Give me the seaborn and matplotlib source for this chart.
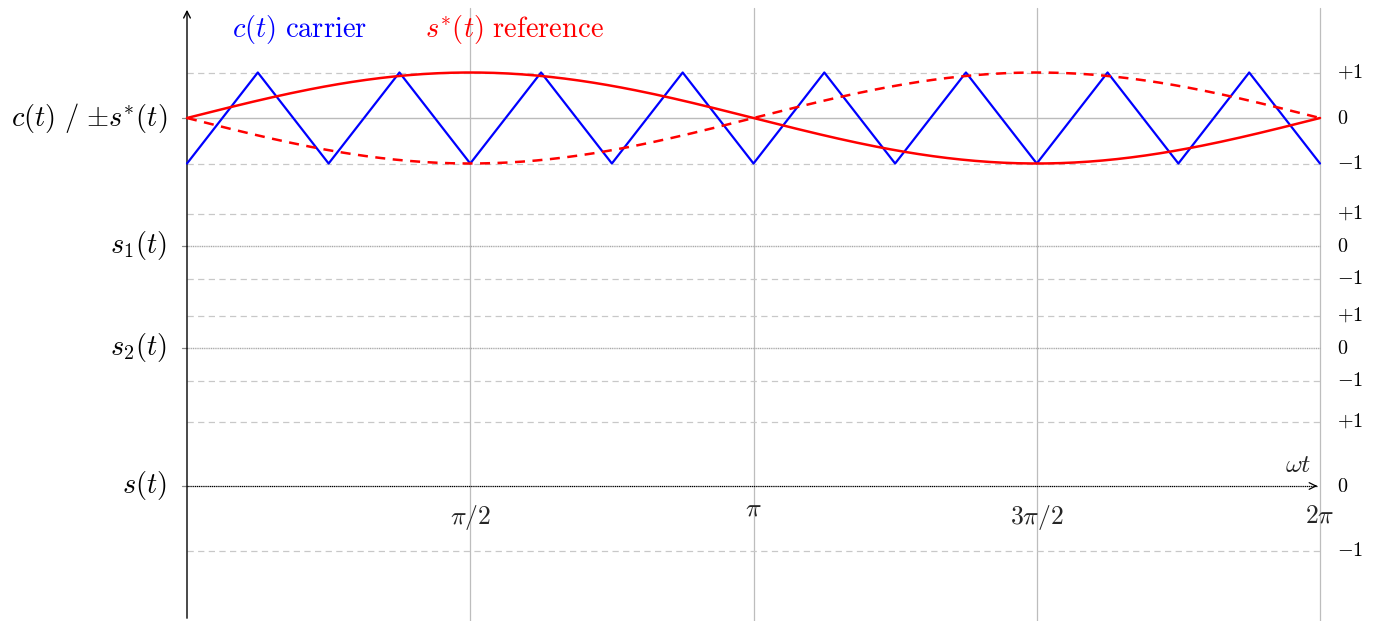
import numpy as np
import matplotlib
matplotlib.use("Agg")
import matplotlib.pyplot as plt
import seaborn as sns

# --- data ---
# carrier: triangle wave, vertices every pi/8 over one fundamental period
carrier_x_over_pi = [0, 0.125, 0.25, 0.375, 0.5, 0.625, 0.75, 0.875, 1.0,
                     1.125, 1.25, 1.375, 1.5, 1.625, 1.75, 1.875, 2.0]
carrier_y = [-1, 1, -1, 1, -1, 1, -1, 1, -1, 1, -1, 1, -1, 1, -1, 1, -1]
# reference: sine with modulation index 1
ref_amplitude = 1.0
ref_samples = 241

row_labels = [r"$c(t)\ /\ {\pm}s^{*}(t)$", r"$s_1(t)$", r"$s_2(t)$", r"$s(t)$"]
level_labels = [r"$+1$", r"$0$", r"$-1$"]
level_values = [1, 0, -1]
xtick_pos_over_pi = [0.5, 1.0, 1.5, 2.0]
xtick_labels = [r"$\pi/2$", r"$\pi$", r"$3\pi/2$", r"$2\pi$"]

# --- layout (pixel frame of a 1381x621 canvas) ---
W, H = 1381, 621
X0_PX, X2PI_PX = 187, 1320
ROW_ZERO_PX = [118, 246, 348, 486]
ROW_AMP_PX = [45.5, 32.5, 32.5, 64.5]
GRID_GRAY = "#c8c8c8"

sns.set_theme(style="white")
plt.rcParams["mathtext.fontset"] = "cm"
plt.rcParams["font.family"] = ["DejaVu Serif", "DejaVu Sans"]


def row_y(row, v):
    return ROW_ZERO_PX[row] - np.asarray(v, dtype=float) * ROW_AMP_PX[row]


fig = plt.figure(figsize=(W / 100, H / 100), dpi=100)
ax = fig.add_axes([0, 0, 1, 1])
ax.set_axis_off()
scale = (X2PI_PX - X0_PX) / (2 * np.pi)
ax.set_xlim(-X0_PX / scale, (W - X0_PX) / scale)
ax.set_ylim(H, 0)

two_pi = 2 * np.pi

# vertical grid at multiples of pi/2
for p in xtick_pos_over_pi:
    ax.plot([p * np.pi, p * np.pi], [8, H], color="#bdbdbd", lw=0.9, zorder=1)

# horizontal level lines for each row
for r in range(len(row_labels)):
    for v in (1, -1):
        ax.plot([0, two_pi], [row_y(r, v)] * 2, color=GRID_GRAY, lw=0.9,
                dashes=(5, 3.5), zorder=1)
    if r == 0:
        ax.plot([0, two_pi], [row_y(r, 0)] * 2, color="#bbbbbb", lw=1.0, zorder=1)
    elif r < 3:
        ax.plot([0, two_pi], [row_y(r, 0)] * 2, color="#a8a8a8", lw=1.0,
                dashes=(0.8, 0.5), zorder=1)
    # small tick on the left axis
    ax.plot([-5 / scale, 0], [row_y(r, 0)] * 2, color="#888888", lw=0.9, zorder=2)
    ax.text(-20 / scale, row_y(r, 0), row_labels[r], ha="right", va="center",
            fontsize=20.5, color="black")
    for v, lab in zip(level_values, level_labels):
        ax.text(two_pi + 17 / scale, row_y(r, v), lab, ha="left", va="center",
                fontsize=14.5, color="black")

# time axis of the last row with arrow
ax.plot([0, two_pi - 3 / scale], [row_y(3, 0)] * 2, color="black", lw=0.9,
        dashes=(1, 0.5), zorder=3)
ax.annotate("", xy=(two_pi, row_y(3, 0)), xytext=(two_pi - 8 / scale, row_y(3, 0)),
            arrowprops=dict(arrowstyle="->", color="black", lw=0.9))
ax.text(two_pi - 22 / scale, row_y(3, 0) - 9, r"$\omega t$", ha="center",
        va="bottom", fontsize=18.5)

# vertical axis with arrow
ax.annotate("", xy=(0, 7), xytext=(0, H),
            arrowprops=dict(arrowstyle="->", color="black", lw=1.0))

# x tick labels
label_y = [518, 508, 518, 515]
for p, lab, yy in zip(xtick_pos_over_pi, xtick_labels, label_y):
    ax.text(p * np.pi, yy, lab, ha="center", va="center", fontsize=18.5)

# carrier
cx = np.array(carrier_x_over_pi) * np.pi
sns.lineplot(x=cx, y=row_y(0, carrier_y), ax=ax, color="blue", lw=1.6,
             zorder=4, sort=False)

# reference and its negative
rx = np.linspace(0, two_pi, ref_samples)
ry = ref_amplitude * np.sin(rx)
sns.lineplot(x=rx, y=row_y(0, ry), ax=ax, color="red", lw=1.8, zorder=5)
sns.lineplot(x=rx, y=row_y(0, -ry), ax=ax, color="red", lw=1.8, zorder=5)
ax.lines[-1].set_dashes((4, 3))

# legend-like labels
ax.text(232 / scale - X0_PX / scale, 29, r"$c(t)\ \mathrm{carrier}$", ha="left",
        va="center", fontsize=20.5, color="blue")
ax.text(425 / scale - X0_PX / scale, 29, r"$s^{*}(t)\ \mathrm{reference}$",
        ha="left", va="center", fontsize=20.5, color="red")

ax.set_xlim(-X0_PX / scale, (W - X0_PX) / scale)
ax.set_ylim(H, 0)
fig.savefig("out.png", dpi=100)
